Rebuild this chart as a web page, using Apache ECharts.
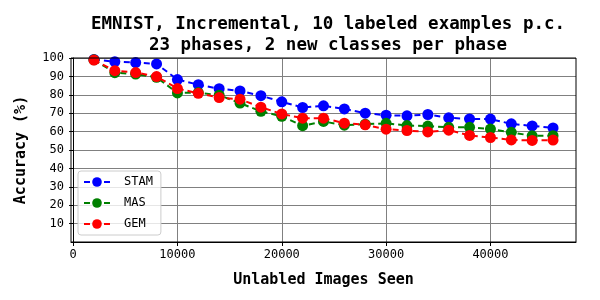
<!DOCTYPE html>
<html><head><meta charset="utf-8">
<script src="https://cdn.jsdelivr.net/npm/echarts@6/dist/echarts.min.js"></script>
<style>html,body{margin:0;padding:0;background:#fff}#c{width:600px;height:300px}</style>
</head><body><div id="c"></div>
<script>
const xs = [2000,4000,6000,8000,10000,12000,14000,16000,18000,20000,22000,24000,26000,28000,30000,32000,34000,36000,38000,40000,42000,44000,46000];
const stam = [99.2,98.0,97.5,96.8,88.3,85.5,83.3,82.1,79.5,76.2,73.1,74.0,72.3,70.0,68.9,68.6,69.3,67.5,66.9,66.8,64.2,63.1,62.0];
const mas  = [99.0,92.0,91.3,89.5,81.0,81.2,79.8,75.5,71.0,68.3,63.2,65.5,63.5,64.0,64.5,63.3,63.0,62.3,62.3,61.4,59.6,57.7,57.8];
const gem  = [98.9,93.1,92.1,89.9,83.4,80.8,78.5,77.6,73.3,69.6,67.3,67.3,64.6,63.7,61.3,60.6,59.8,60.8,57.9,56.8,55.5,55.2,55.4];
const seriesNames = ['STAM','MAS','GEM'];
const colors = ['#0000ff','#008000','#ff0000'];
const xTicks = [0,10000,20000,30000,40000];
const yTicks = [10,20,30,40,50,60,70,80,90,100];
const mono = 'DejaVu Sans Mono';
const chart = echarts.init(document.getElementById('c'));
const mk = (name, vals, color, z) => ({
  name, type:'line', data: xs.map((x,i)=>[x, vals[i]]), z,
  symbol:'circle', symbolSize:11, showSymbol:true,
  lineStyle:{color, width:2, type:[6,4]}, itemStyle:{color},
  emphasis:{disabled:true}, animation:false
});
chart.setOption({
  animation:false,
  title:{text:'EMNIST, Incremental, 10 labeled examples p.c.\n23 phases, 2 new classes per phase',
    left:323, top:9, textAlign:'center',
    textStyle:{fontFamily:mono, fontWeight:'bold', fontSize:17.5, color:'#000', lineHeight:21}},
  grid:{left:71, right:24, top:58, bottom:58, show:false},
  legend:{left:78, top:171, orient:'vertical', itemGap:9, itemWidth:26, itemHeight:12,
    backgroundColor:'rgba(255,255,255,0.8)', borderColor:'#ccc', borderWidth:1, borderRadius:3,
    padding:[5,8,5,5],
    textStyle:{fontFamily:mono, fontSize:12, color:'#000', padding:[0,0,0,9]},
    data:seriesNames},
  xAxis:{type:'value', min:-200, max:48200,
    name:'Unlabled Images Seen', nameLocation:'middle', nameGap:31,
    nameTextStyle:{fontFamily:mono, fontWeight:'bold', fontSize:15, color:'#000'},
    axisLine:{show:true, lineStyle:{color:'#000', width:1}},
    axisTick:{show:true, inside:false, length:4, lineStyle:{color:'#000'}, customValues:xTicks},
    axisLabel:{fontFamily:mono, fontSize:12, color:'#000', margin:7, customValues:xTicks, formatter:v=>String(v)},
    splitLine:{show:true, lineStyle:{color:'#808080', width:1}}},
  yAxis:{type:'value', min:0, max:100, interval:10,
    name:'Accuracy (%)', nameLocation:'middle', nameGap:42,
    nameTextStyle:{fontFamily:mono, fontWeight:'bold', fontSize:15, color:'#000'},
    axisLine:{show:true, lineStyle:{color:'#000', width:1}},
    axisTick:{show:true, inside:false, length:4, lineStyle:{color:'#000'}, customValues:yTicks},
    axisLabel:{fontFamily:mono, fontSize:12, color:'#000', margin:7, customValues:yTicks, formatter:v=>String(v)},
    splitLine:{show:true, lineStyle:{color:'#808080', width:1}}},
  series:[mk('STAM',stam,colors[0],3), mk('MAS',mas,colors[1],4), mk('GEM',gem,colors[2],5)]
});
chart.setOption({graphic:[{type:'rect', shape:{x:71,y:58,width:505,height:184}, style:{fill:'none', stroke:'#000', lineWidth:1}, z:10}]});
</script></body></html>
